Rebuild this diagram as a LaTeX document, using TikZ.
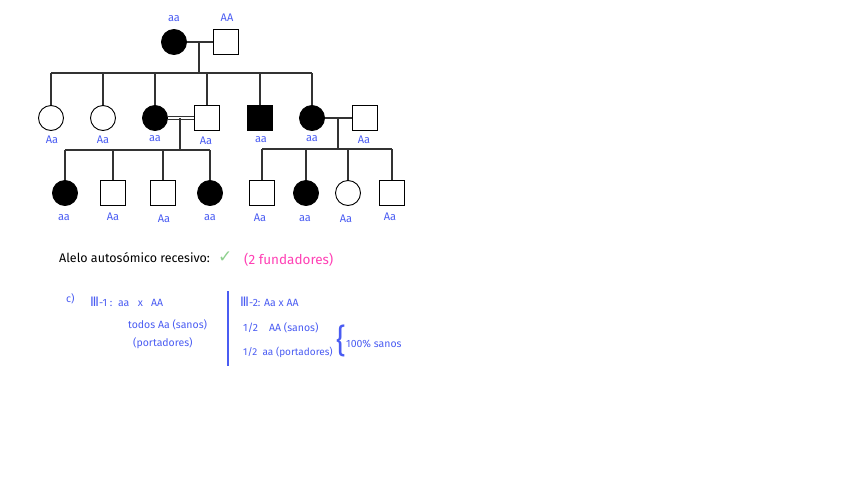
\documentclass[tikz,border=0pt]{standalone}
\usepackage{fontspec}
\setmainfont{Fira Sans}
\newfontfamily\symfont{DejaVu Sans}
\definecolor{lblue}{HTML}{4A5CF2}
\definecolor{lpink}{HTML}{FF40B4}
\definecolor{lgreen}{HTML}{8ED08E}
\definecolor{pline}{HTML}{333333}
\tikzset{
  fem/.style={circle,draw=black,line width=0.9pt,minimum size=25pt,inner sep=0pt,fill=white},
  mal/.style={rectangle,draw=black,line width=0.9pt,minimum size=25pt,inner sep=0pt,fill=white},
  aff/.style={fill=black},
  geno/.style={text=lblue,font=\fontsize{11}{13}\selectfont,inner sep=0pt},
  note/.style={text=lblue,font=\fontsize{10.5}{12}\selectfont,inner sep=0pt,anchor=west},
  conn/.style={draw=pline,line width=1.1pt},
}
\newcommand{\romIII}{{\symfont\fontsize{13}{14}\selectfont Ⅲ}}
\begin{document}
\begin{tikzpicture}[x=1pt,y=-1pt]
\useasboundingbox (0,0) rectangle (848,477);
% Generation I
\node[fem,aff] (I1) at (174,42) {};
\node[mal] (I2) at (226,42) {};
% Generation II
\node[fem] (II1) at (51,118) {};
\node[fem] (II2) at (103,118) {};
\node[fem,aff] (II3) at (155,118) {};
\node[mal] (II4) at (207,118) {};
\node[mal,aff] (II5) at (260,118) {};
\node[fem,aff] (II6) at (312,118) {};
\node[mal] (II7) at (365,118) {};
% Generation III
\node[fem,aff] (III1) at (65,193) {};
\node[mal] (III2) at (113,193) {};
\node[mal] (III3) at (163,193) {};
\node[fem,aff] (III4) at (210,193) {};
\node[mal] (III5) at (262,193) {};
\node[fem,aff] (III6) at (306,193) {};
\node[fem] (III7) at (348,193) {};
\node[mal] (III8) at (392,193) {};
% junction coordinates
\coordinate (m1) at (199,42);
\coordinate (s1) at (199,73);
\coordinate (m2) at (180,118);
\coordinate (s2) at (180,150);
\coordinate (m3) at (338,118);
\coordinate (s3) at (338,149);
% connectors gen I
\draw[conn] (I1.east) -- (I2.west);
\draw[conn] (m1) -- (s1);
\draw[conn] (II1.north |- s1) -- (II6.north |- s1);
\foreach \n in {II1,II2,II3,II4,II5,II6}{
  \draw[conn] (\n.north |- s1) -- (\n.north);
}
% consanguineous marriage
\draw[draw=pline,line width=1.1pt,double=white,double distance=1.3pt] (II3.east) -- (II4.west);
\draw[conn] (m2) -- (s2);
\draw[conn] (III1.north |- s2) -- (III4.north |- s2);
\foreach \n in {III1,III2,III3,III4}{
  \draw[conn] (\n.north |- s2) -- (\n.north);
}
% second marriage
\draw[conn] (II6.east) -- (II7.west);
\draw[conn] (m3) -- (s3);
\draw[conn] (III5.north |- s3) -- (III8.north |- s3);
\foreach \n in {III5,III6,III7,III8}{
  \draw[conn] (\n.north |- s3) -- (\n.north);
}
% genotype labels
\node[geno] (gI1) at (174,19) {aa};
\node[geno] (gI2) at (227,18) {AA};
\node[geno] (gII1) at (52,140) {Aa};
\node[geno] (gII2) at (103,140) {Aa};
\node[geno] (gII3) at (155,139) {aa};
\node[geno] (gII4) at (206,141) {Aa};
\node[geno] (gII5) at (261,140) {aa};
\node[geno] (gII6) at (312,139) {aa};
\node[geno] (gII7) at (364,140) {Aa};
\node[geno] (gIII1) at (64,218) {aa};
\node[geno] (gIII2) at (113,217) {Aa};
\node[geno] (gIII3) at (164,219) {Aa};
\node[geno] (gIII4) at (210,218) {aa};
\node[geno] (gIII5) at (260,218) {Aa};
\node[geno] (gIII6) at (305,219) {aa};
\node[geno] (gIII7) at (346,219) {Aa};
\node[geno] (gIII8) at (390,217) {Aa};
% conclusion
\node[anchor=west,inner sep=0pt,font=\fontsize{12.5}{14}\selectfont] (concl) at (59,258) {Alelo autosómico recesivo:};
\node[anchor=west,inner sep=0pt,text=lgreen,font=\symfont\fontsize{17}{19}\selectfont] (check) at (218,257) {✓};
\node[anchor=west,inner sep=0pt,text=lpink,font=\fontsize{13.5}{15}\selectfont] (fund) at (244,260) {(2 fundadores)};
% part c
\node[note] (c) at (66,299) {c)};
\node[note] (x1) at (90,302) {\romIII-1 :\ \ aa\ \ \ x\ \ \ AA};
\node[note] (x1a) at (128,325) {todos Aa (sanos)};
\node[note] (x1b) at (133,343) {(portadores)};
\coordinate (vtop) at (228,291);
\coordinate (vbot) at (228,366);
\draw[draw=lblue,line width=1.2pt] (vtop) -- (vbot);
\node[note] (x2) at (240,302) {\romIII-2: Aa\ x\ AA};
\node[note] (x2a) at (243,328) {1/2\ \ \ \ AA (sanos)};
\node[note,font=\fontsize{10}{12}\selectfont] (x2b) at (243,352) {1/2\ \ aa (portadores)};
\node[note,font=\fontsize{30}{32}\selectfont,yscale=1.1] (br) at (336,341) {\{};
\node[note] (x2c) at (346,344) {100\% sanos};
\end{tikzpicture}
\end{document}
